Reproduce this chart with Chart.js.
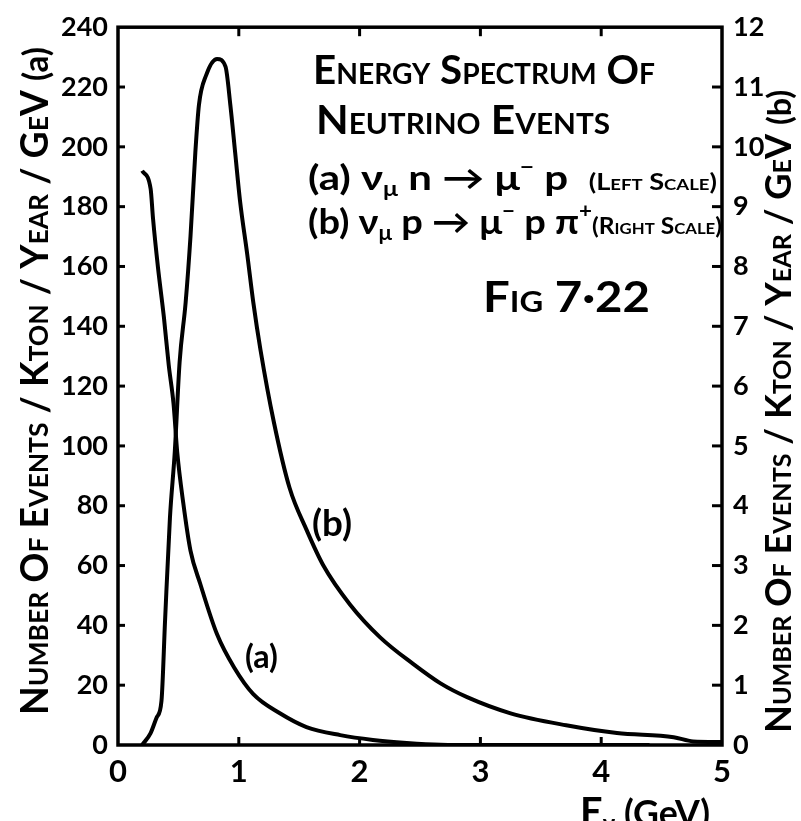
<!DOCTYPE html>
<html>
<head>
<meta charset="utf-8">
<script src="https://cdn.jsdelivr.net/npm/chart.js@4.4.1/dist/chart.umd.min.js"></script>
<style>
  html, body { margin: 0; padding: 0; background: #fff; }
  #wrap { width: 801px; height: 821px; }
</style>
</head>
<body>
<div id="wrap"><canvas id="chart" width="801" height="821"></canvas></div>
<script>
// (a) nu_mu n -> mu- p  (left scale, events/kton/year/GeV)
const energyA = [0.20, 0.27, 0.29, 0.33, 0.38, 0.42, 0.46, 0.49, 0.54, 0.60, 0.68, 0.82, 0.96, 1.12, 1.34, 1.56, 1.84, 2.11, 2.39, 2.67, 3.0, 4.4];
const eventsA = [192, 186, 176, 160, 143, 127, 114, 98, 81, 65, 54, 37, 26, 17, 10.6, 6.0, 3.3, 1.7, 0.7, 0.1, 0, 0];

// (b) nu_mu p -> mu- p pi+  (right scale)
const energyB = [0.20, 0.27, 0.32, 0.36, 0.39, 0.43, 0.47, 0.51, 0.56, 0.60, 0.64, 0.67, 0.73, 0.82, 0.89, 0.93, 0.97, 1.01, 1.07, 1.12, 1.18, 1.29, 1.42, 1.56, 1.70, 1.92, 2.17, 2.44, 2.67, 2.89, 3.25, 3.71, 4.13, 4.60, 4.76, 5.0];
const eventsB = [0, 0.2, 0.46, 0.74, 2.1, 3.8, 4.9, 6.4, 7.4, 8.5, 9.9, 10.7, 11.2, 11.47, 11.34, 10.7, 9.9, 9.1, 8.2, 7.4, 6.6, 5.4, 4.3, 3.6, 3.0, 2.35, 1.8, 1.36, 1.03, 0.8, 0.53, 0.33, 0.2, 0.13, 0.06, 0.05];

const energyTicks = [0, 1, 2, 3, 4, 5];
const leftTicks = [0, 20, 40, 60, 80, 100, 120, 140, 160, 180, 200, 220, 240];
const rightTicks = [0, 1, 2, 3, 4, 5, 6, 7, 8, 9, 10, 11, 12];

const FAMILY = 'Lato';
const hand = (size, caps) => (caps ? 'small-caps ' : '') + 'bold ' + size + 'px ' + FAMILY;

// draw a list of text runs starting at (x, y), squeezed/stretched to a given width
function drawRuns(ctx, runs, x, y, width, rotate) {
  ctx.save();
  ctx.translate(x, y);
  if (rotate) ctx.rotate(-Math.PI / 2);
  let total = 0;
  runs.forEach(r => { ctx.font = r.font; total += ctx.measureText(r.text).width; });
  ctx.scale(width / total, 1);
  let cx = 0;
  runs.forEach(r => {
    ctx.font = r.font;
    ctx.fillText(r.text, cx, r.dy || 0);
    cx += ctx.measureText(r.text).width;
  });
  ctx.restore();
}

const frameAndTicks = {
  id: 'frameAndTicks',
  afterDatasetsDraw(chart) {
    const { ctx, chartArea: a, scales } = chart;
    const line = (x1, y1, x2, y2) => { ctx.beginPath(); ctx.moveTo(x1, y1); ctx.lineTo(x2, y2); ctx.stroke(); };
    ctx.save();
    ctx.strokeStyle = '#000';
    ctx.lineWidth = 3.5;
    ctx.strokeRect(a.left, a.top, a.right - a.left, a.bottom - a.top);
    ctx.lineWidth = 3;
    energyTicks.slice(1, -1).forEach(v => {
      const x = scales.x.getPixelForValue(v);
      line(x, a.top, x, a.top + 9);
      line(x, a.bottom, x, a.bottom - 8);
    });
    leftTicks.slice(1, -1).forEach(v => {
      const y = scales.yLeft.getPixelForValue(v);
      line(a.left, y, a.left + 7, y);
    });
    rightTicks.slice(1, -1).forEach(v => {
      const y = scales.yRight.getPixelForValue(v);
      line(a.right, y, a.right - 10, y);
    });
    ctx.restore();
  }
};

const notes = {
  id: 'notes',
  afterDraw(chart) {
    const ctx = chart.ctx;
    ctx.save();
    ctx.fillStyle = '#000';
    ctx.textBaseline = 'alphabetic';
    ctx.textAlign = 'left';

    drawRuns(ctx, [{ text: 'Energy Spectrum Of', font: hand(40, true) }], 313, 84, 342);
    drawRuns(ctx, [{ text: 'Neutrino Events', font: hand(40, true) }], 316, 134, 294);
    drawRuns(ctx, [
      { text: '(a) ν', font: hand(34) },
      { text: 'μ', font: hand(20), dy: 6 },
      { text: ' n → μ', font: hand(34) },
      { text: '−', font: hand(20), dy: -16 },
      { text: ' p  ', font: hand(34) },
      { text: '(Left Scale)', font: hand(22, true) }
    ], 308, 190, 409);
    drawRuns(ctx, [
      { text: '(b) ν', font: hand(34) },
      { text: 'μ', font: hand(20), dy: 6 },
      { text: ' p → μ', font: hand(34) },
      { text: '−', font: hand(20), dy: -16 },
      { text: ' p π', font: hand(34) },
      { text: '+', font: hand(20), dy: -16 },
      { text: '(Right Scale)', font: hand(22, true) }
    ], 308, 234, 414);
    drawRuns(ctx, [{ text: 'Fig 7·22', font: hand(42, true) }], 483, 312, 167);

    // curve labels
    drawRuns(ctx, [{ text: '(b)', font: hand(36) }], 312, 536, 40);
    drawRuns(ctx, [{ text: '(a)', font: hand(32) }], 245, 668, 33);

    // axis titles
    drawRuns(ctx, [
      { text: 'Number Of Events / Kton / Year / GeV ', font: hand(38, true) },
      { text: '(a)', font: hand(34) }
    ], 48, 715, 668, true);
    drawRuns(ctx, [
      { text: 'Number Of Events / Kton / Year / GeV ', font: hand(36, true) },
      { text: '(b)', font: hand(32) }
    ], 791, 733, 643, true);
    drawRuns(ctx, [
      { text: 'E', font: hand(40) },
      { text: 'ν', font: hand(24), dy: 6 },
      { text: ' (GeV)', font: hand(36) }
    ], 580, 826, 130);
    ctx.restore();
  }
};

const pairs = (xs, ys) => xs.map((x, i) => ({ x: x, y: ys[i] }));
const tickFont = { family: FAMILY, size: 27, weight: 'bold' };
const setTicks = list => scale => { scale.ticks = list.map(v => ({ value: v })); };

new Chart(document.getElementById('chart').getContext('2d'), {
  type: 'line',
  data: {
    datasets: [
      {
        label: '(a)',
        data: pairs(energyA, eventsA),
        yAxisID: 'yLeft',
        borderColor: '#000',
        borderWidth: 4,
        pointRadius: 0,
        fill: false,
        cubicInterpolationMode: 'monotone'
      },
      {
        label: '(b)',
        data: pairs(energyB, eventsB),
        yAxisID: 'yRight',
        borderColor: '#000',
        borderWidth: 4,
        pointRadius: 0,
        fill: false,
        cubicInterpolationMode: 'monotone'
      }
    ]
  },
  options: {
    responsive: false,
    animation: false,
    layout: { padding: { top: 20, left: 0, right: 0, bottom: 0 } },
    plugins: {
      legend: { display: false },
      tooltip: { enabled: false }
    },
    scales: {
      x: {
        type: 'linear',
        position: 'bottom',
        min: 0,
        max: 5,
        grid: { display: false, drawTicks: false },
        border: { display: false },
        ticks: { color: '#000', font: { family: FAMILY, size: 31, weight: 'bold' }, padding: 8 },
        afterBuildTicks: setTicks(energyTicks),
        afterFit: s => { s.height = 76; }
      },
      yLeft: {
        type: 'linear',
        position: 'left',
        min: 0,
        max: 240,
        grid: { display: false, drawTicks: false },
        border: { display: false },
        ticks: { color: '#000', font: tickFont, padding: 10 },
        afterBuildTicks: setTicks(leftTicks),
        afterFit: s => { s.width = 118; }
      },
      yRight: {
        type: 'linear',
        position: 'right',
        min: 0,
        max: 12,
        grid: { display: false, drawTicks: false },
        border: { display: false },
        ticks: { color: '#000', font: tickFont, padding: 11 },
        afterBuildTicks: setTicks(rightTicks),
        afterFit: s => { s.width = 79; }
      }
    }
  },
  plugins: [frameAndTicks, notes]
});
</script>
</body>
</html>
